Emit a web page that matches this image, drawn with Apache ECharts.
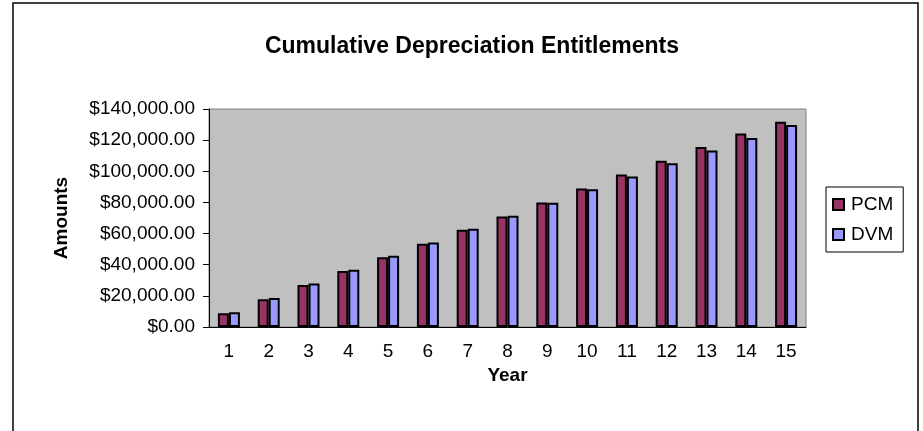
<!DOCTYPE html>
<html>
    <head>
        <meta charset="utf-8">
        <title>Cumulative Depreciation Entitlements</title>
        <script src="https://cdn.jsdelivr.net/npm/echarts@6/dist/echarts.min.js"></script>
        <style>
            html, body { margin: 0; padding: 0; background: #fff; }
            #chart1 { width: 923px; height: 431px; }
        </style>
    </head>
    <body>
        <div id="chart1"></div>
        <script type="text/javascript">
            // 数据
            var years = ['1', '2', '3', '4', '5', '6', '7', '8', '9', '10', '11', '12', '13', '14', '15'];
            var pcm = [8900, 17900, 26900, 35900, 44800, 53500, 62400, 71000, 80000, 89000, 97900, 106800, 115600, 124300, 131800];
            var dvm = [9500, 18700, 27900, 36700, 45700, 54300, 63100, 71500, 79800, 88400, 96700, 105100, 113300, 121400, 129800];

            var myChart1 = echarts.init(document.getElementById('chart1'));

            function money(v) {
                return '$' + v.toLocaleString('en-US', { minimumFractionDigits: 2, maximumFractionDigits: 2 });
            }

            var font = 'Arial, "Liberation Sans", sans-serif';

            myChart1.setOption({
                animation: false,
                textStyle: { fontFamily: font },
                title: {
                    text: 'Cumulative Depreciation Entitlements',
                    left: 467,
                    textAlign: 'center',
                    top: 30,
                    textStyle: { fontSize: 23, fontWeight: 'bold', color: '#000', fontFamily: font }
                },
                // 外框
                graphic: [{
                    type: 'rect',
                    shape: { x: 13, y: 3, width: 905, height: 440 },
                    style: { fill: 'none', stroke: '#000', lineWidth: 1.5 },
                    silent: true
                }],
                legend: {
                    orient: 'vertical',
                    left: 826,
                    top: 187,
                    padding: [8, 10, 8, 6],
                    itemGap: 11,
                    itemWidth: 11,
                    itemHeight: 11,
                    borderColor: '#000',
                    borderWidth: 1,
                    icon: 'rect',
                    textStyle: { fontSize: 19, color: '#000', fontFamily: font, padding: [0, 0, 0, 2] },
                    data: ['PCM', 'DVM']
                },
                grid: {
                    left: 209,
                    right: 117,
                    top: 109,
                    bottom: 104,
                    show: true,
                    backgroundColor: '#C0C0C0',
                    borderColor: '#808080',
                    borderWidth: 1
                },
                xAxis: {
                    type: 'category',
                    data: years,
                    name: 'Year',
                    nameLocation: 'middle',
                    nameGap: 36,
                    nameTextStyle: { fontSize: 19, fontWeight: 'bold', color: '#000' },
                    axisLine: { lineStyle: { color: '#000', width: 1 } },
                    axisTick: { length: 5, interval: 0, lineStyle: { color: '#000' } },
                    axisLabel: { fontSize: 19, color: '#000', margin: 15, interval: 0 }
                },
                yAxis: {
                    type: 'value',
                    min: 0,
                    max: 140000,
                    interval: 20000,
                    name: 'Amounts',
                    nameLocation: 'middle',
                    nameGap: 138,
                    nameTextStyle: { fontSize: 19, fontWeight: 'bold', color: '#000' },
                    axisLine: { show: true, lineStyle: { color: '#000', width: 1 } },
                    axisTick: { show: true, length: 6, lineStyle: { color: '#000' } },
                    splitLine: { show: false },
                    axisLabel: { fontSize: 19, color: '#000', margin: 14, formatter: money }
                },
                series: [{
                    name: 'PCM',
                    type: 'bar',
                    data: pcm,
                    barWidth: 11,
                    barGap: '0%',
                    itemStyle: { color: '#993366', borderColor: '#000', borderWidth: 2 }
                }, {
                    name: 'DVM',
                    type: 'bar',
                    data: dvm,
                    barWidth: 11,
                    barGap: '0%',
                    itemStyle: { color: '#9999FF', borderColor: '#000', borderWidth: 2 }
                }]
            });
        </script>
    </body>
</html>
